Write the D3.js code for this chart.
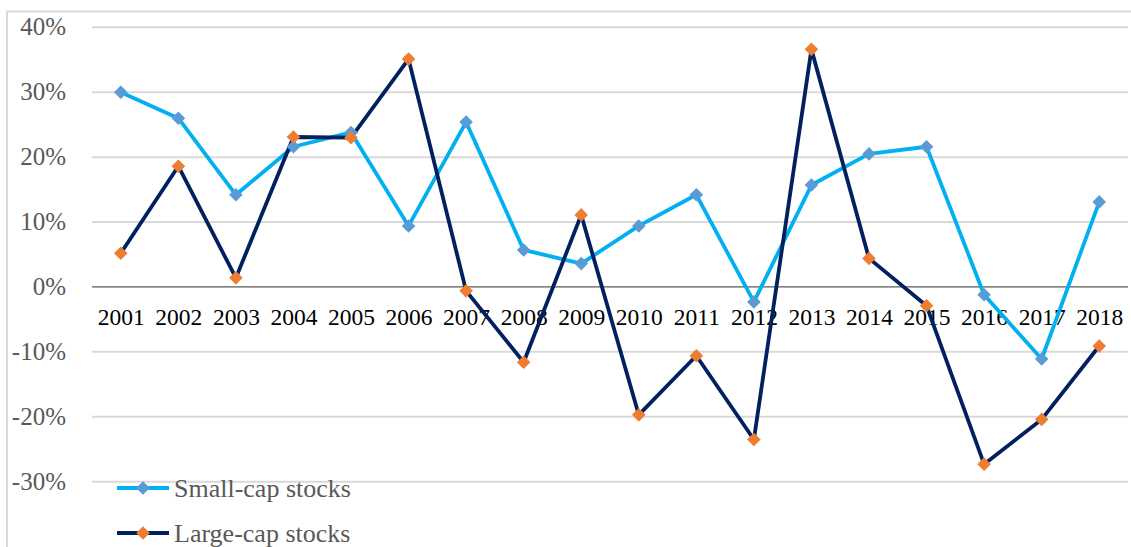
<!DOCTYPE html>
<html>
<head>
<meta charset="utf-8">
<script src="https://cdn.jsdelivr.net/npm/d3@7"></script>
<style>
  html, body { margin: 0; padding: 0; background: #fff; }
  svg { display: block; }
</style>
</head>
<body>
<svg id="chart" width="1131" height="547"></svg>
<script>
const years = ["2001","2002","2003","2004","2005","2006","2007","2008","2009","2010","2011","2012","2013","2014","2015","2016","2017","2018"];
const smallCap = [30.0, 26.0, 14.2, 21.6, 23.8, 9.4, 25.4, 5.7, 3.6, 9.4, 14.2, -2.3, 15.7, 20.5, 21.6, -1.2, -11.1, 13.1];
const largeCap = [5.2, 18.6, 1.4, 23.1, 23.0, 35.1, -0.6, -11.6, 11.1, -19.7, -10.6, -23.5, 36.6, 4.4, -2.9, -27.3, -20.4, -9.1];
const yTicks = [40, 30, 20, 10, 0, -10, -20, -30];
const seriesNames = ["Small-cap stocks", "Large-cap stocks"];

const svg = d3.select("#chart");
const plotLeft = 92, plotRight = 1128;
const yTop = 27.3, yBottom = 481.7;
const serif = "'Liberation Serif', 'Times New Roman', serif";

// Outer chart frame
svg.append("rect")
  .attr("x", 7).attr("y", 11.5)
  .attr("width", 1140).attr("height", 560)
  .attr("fill", "none").attr("stroke", "#d9d9d9").attr("stroke-width", 2);

const x = d3.scalePoint().domain(years).range([plotLeft, plotRight]).padding(0.5);
const y = d3.scaleLinear().domain([-30, 40]).range([yBottom, yTop]);

// Gridlines
svg.append("g").selectAll("line")
  .data(yTicks.filter(d => d !== 0))
  .join("line")
  .attr("x1", plotLeft).attr("x2", plotRight)
  .attr("y1", d => y(d)).attr("y2", d => y(d))
  .attr("stroke", "#d9d9d9").attr("stroke-width", 2);

// Y axis labels
const yAxis = d3.axisLeft(y).tickValues(yTicks).tickFormat(d => d + "%").tickSize(0).tickPadding(0);
const yg = svg.append("g").attr("transform", `translate(66,0)`).call(yAxis)
  .attr("font-family", serif).attr("font-size", 25);
yg.select(".domain").remove();
yg.selectAll("text")
  .attr("fill", "#595959")
  .attr("dy", "0.3em");

// Zero line
svg.append("line")
  .attr("x1", plotLeft).attr("x2", plotRight)
  .attr("y1", y(0)).attr("y2", y(0))
  .attr("stroke", "#595959").attr("stroke-width", 1.3);

// X axis labels
const xAxis = d3.axisBottom(x).tickSize(0).tickPadding(0);
const xg = svg.append("g").attr("transform", `translate(0,${y(0)})`).call(xAxis)
  .attr("font-family", serif).attr("font-size", 23.5);
xg.select(".domain").remove();
xg.selectAll("text")
  .attr("fill", "#000")
  .attr("y", 38)
  .attr("dy", 0);

const diamond = r => `M0,${-r}L${r},0L0,${r}L${-r},0Z`;
const line = d3.line().x((d, i) => x(years[i])).y(d => y(d));

const series = [
  { name: seriesNames[0], values: smallCap, lineColor: "#00b0f0", markerColor: "#5b9bd5" },
  { name: seriesNames[1], values: largeCap, lineColor: "#002060", markerColor: "#ed7d31" }
];

series.forEach(s => {
  svg.append("path")
    .datum(s.values)
    .attr("d", line)
    .attr("fill", "none")
    .attr("stroke", s.lineColor)
    .attr("stroke-width", 3.8)
    .attr("stroke-linejoin", "round");
});
series.forEach(s => {
  svg.append("g").selectAll("path")
    .data(s.values)
    .join("path")
    .attr("transform", (d, i) => `translate(${x(years[i])},${y(d)})`)
    .attr("d", diamond(6.8))
    .attr("fill", s.markerColor);
});

// Legend
const legend = svg.append("g");
series.forEach((s, i) => {
  const ly = 488 + i * 45;
  legend.append("line")
    .attr("x1", 117).attr("x2", 169)
    .attr("y1", ly).attr("y2", ly)
    .attr("stroke", s.lineColor).attr("stroke-width", 3.8);
  legend.append("path")
    .attr("transform", `translate(143,${ly})`)
    .attr("d", diamond(6.8))
    .attr("fill", s.markerColor);
  legend.append("text")
    .attr("x", 174).attr("y", ly + 9)
    .attr("font-family", serif)
    .attr("font-size", 26)
    .attr("fill", "#595959")
    .text(s.name);
});
</script>
</body>
</html>
